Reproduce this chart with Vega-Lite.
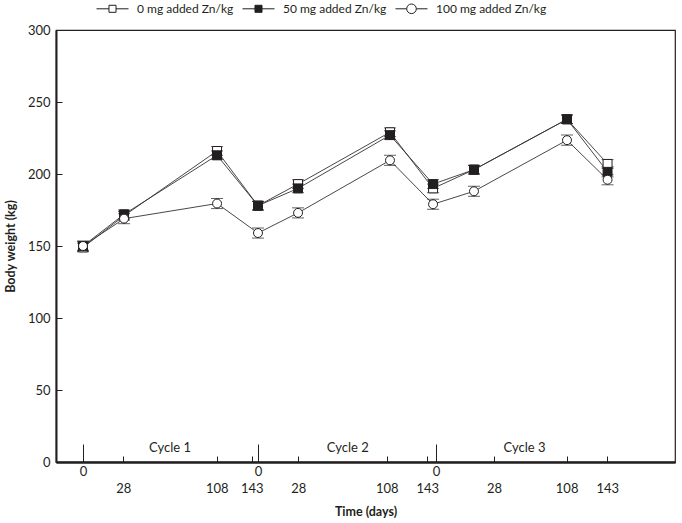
{
  "$schema": "https://vega.github.io/schema/vega-lite/v6.json",
  "width": 619,
  "height": 432,
  "autosize": "none",
  "padding": {"left": 56, "top": 30, "right": 7, "bottom": 61},
  "background": "white",
  "config": {
    "font": "Lato",
    "view": {"stroke": "#231f20", "strokeWidth": 1.2},
    "axis": {
      "domainColor": "#231f20", "domainWidth": 2, "tickColor": "#231f20", "tickWidth": 1,
      "labelColor": "#231f20", "labelFontSize": 13, "labelFont": "Lato",
      "titleFont": "Lato", "titleFontSize": 12.5, "titleFontWeight": "bold", "titleColor": "#231f20",
      "grid": false, "labelOverlap": false, "labelFlush": false
    },
    "legend": {"title": null, "orient": "none", "legendX": 40, "legendY": -37.7, "direction": "horizontal", "gridAlign": "none", "padding": 0, "symbolSize": 1024, "symbolStrokeWidth": 1, "symbolStrokeColor": "#231f20", "labelFontSize": 12, "labelColor": "#231f20", "labelOffset": 8, "columnPadding": 6, "labelFont": "Lato"}
  },
  "datasets": {
    "bw": [
      {"g": "0 mg added Zn/kg", "pos": 0, "w": 149, "lo": 146, "hi": 152},
      {"g": "0 mg added Zn/kg", "pos": 34.2, "w": 171, "lo": 168, "hi": 174},
      {"g": "0 mg added Zn/kg", "pos": 111.7, "w": 216, "lo": 213, "hi": 219},
      {"g": "0 mg added Zn/kg", "pos": 145.8, "w": 178, "lo": 175, "hi": 181},
      {"g": "0 mg added Zn/kg", "pos": 179.2, "w": 193, "lo": 190, "hi": 196},
      {"g": "0 mg added Zn/kg", "pos": 255.8, "w": 229, "lo": 226, "hi": 232},
      {"g": "0 mg added Zn/kg", "pos": 291.7, "w": 190, "lo": 187, "hi": 193},
      {"g": "0 mg added Zn/kg", "pos": 325.8, "w": 203, "lo": 200, "hi": 206},
      {"g": "0 mg added Zn/kg", "pos": 403.3, "w": 238, "lo": 235, "hi": 241},
      {"g": "0 mg added Zn/kg", "pos": 437.1, "w": 207, "lo": 204, "hi": 210},
      {"g": "50 mg added Zn/kg", "pos": 0, "w": 150, "lo": 147, "hi": 153},
      {"g": "50 mg added Zn/kg", "pos": 34.2, "w": 172, "lo": 169, "hi": 175},
      {"g": "50 mg added Zn/kg", "pos": 111.7, "w": 213, "lo": 210, "hi": 216},
      {"g": "50 mg added Zn/kg", "pos": 145.8, "w": 178, "lo": 175, "hi": 181},
      {"g": "50 mg added Zn/kg", "pos": 179.2, "w": 190, "lo": 187, "hi": 193},
      {"g": "50 mg added Zn/kg", "pos": 255.8, "w": 227, "lo": 224, "hi": 230},
      {"g": "50 mg added Zn/kg", "pos": 291.7, "w": 193, "lo": 190, "hi": 196},
      {"g": "50 mg added Zn/kg", "pos": 325.8, "w": 203, "lo": 200, "hi": 206},
      {"g": "50 mg added Zn/kg", "pos": 403.3, "w": 238, "lo": 235, "hi": 241},
      {"g": "50 mg added Zn/kg", "pos": 437.1, "w": 201.5, "lo": 198, "hi": 205},
      {"g": "100 mg added Zn/kg", "pos": 0, "w": 150, "lo": 146.5, "hi": 153.5},
      {"g": "100 mg added Zn/kg", "pos": 34.2, "w": 169, "lo": 165.5, "hi": 172.5},
      {"g": "100 mg added Zn/kg", "pos": 111.7, "w": 179.5, "lo": 176, "hi": 183},
      {"g": "100 mg added Zn/kg", "pos": 145.8, "w": 159, "lo": 155.5, "hi": 162.5},
      {"g": "100 mg added Zn/kg", "pos": 179.2, "w": 173, "lo": 169.5, "hi": 176.5},
      {"g": "100 mg added Zn/kg", "pos": 255.8, "w": 209.5, "lo": 206, "hi": 213},
      {"g": "100 mg added Zn/kg", "pos": 291.7, "w": 179, "lo": 175.5, "hi": 182.5},
      {"g": "100 mg added Zn/kg", "pos": 325.8, "w": 188, "lo": 184.5, "hi": 191.5},
      {"g": "100 mg added Zn/kg", "pos": 403.3, "w": 223.5, "lo": 220, "hi": 227},
      {"g": "100 mg added Zn/kg", "pos": 437.1, "w": 196, "lo": 192.5, "hi": 199.5}
    ],
    "cyc": [
      {"cycle": "Cycle 1", "pos": 72.5, "w": 10},
      {"cycle": "Cycle 2", "pos": 220.7, "w": 10},
      {"cycle": "Cycle 3", "pos": 367.9, "w": 10}
    ]
  },
  "data": {"name": "bw"},
  "layer": [
    {
      "mark": {"type": "line", "color": "#333333", "strokeWidth": 0.9},
      "encoding": {
        "x": {
          "field": "pos", "type": "quantitative",
          "scale": {"domain": [-22.5, 493.3], "nice": false, "zero": false},
          "axis": {"orient": "bottom", "values": [0, 145.8, 294.2], "tickSize": -18, "labelExpr": "'0'", "labelPadding": 21, "title": null}
        },
        "y": {
          "field": "w", "type": "quantitative", "title": "Body weight (kg)",
          "scale": {"domain": [0, 300], "nice": false},
          "axis": {"values": [0, 50, 100, 150, 200, 250, 300], "tickSize": -6, "labelPadding": 12, "titlePadding": 10}
        },
        "detail": {"field": "g"}
      }
    },
    {
      "mark": {"type": "rule", "color": "#231f20", "strokeWidth": 1},
      "encoding": {
        "x": {
          "field": "pos", "type": "quantitative",
          "axis": {
            "orient": "bottom",
            "values": [33.6, 111.4, 140.6, 179.4, 253.1, 286.9, 342.5, 403, 436.9],
            "labelExpr": "['28','108','143','28','108','143','28','108','143'][indexof([33.6,111.4,140.6,179.4,253.1,286.9,342.5,403,436.9], datum.value)]",
            "tickSize": -6, "labelPadding": 26, "title": "Time (days)", "titlePadding": 10
          }
        },
        "y": {"field": "lo", "type": "quantitative", "title": "Body weight (kg)"},
        "y2": {"field": "hi"}
      }
    },
    {
      "mark": {"type": "tick", "orient": "horizontal", "size": 12, "thickness": 1, "color": "#231f20"},
      "encoding": {
        "x": {"field": "pos", "type": "quantitative", "axis": null},
        "y": {"field": "lo", "type": "quantitative", "title": "Body weight (kg)"}
      }
    },
    {
      "mark": {"type": "tick", "orient": "horizontal", "size": 12, "thickness": 1, "color": "#231f20"},
      "encoding": {
        "x": {"field": "pos", "type": "quantitative", "axis": null},
        "y": {"field": "hi", "type": "quantitative", "title": "Body weight (kg)"}
      }
    },
    {
      "mark": {"type": "point", "filled": true, "stroke": "#231f20", "strokeWidth": 1, "size": 80, "opacity": 1},
      "encoding": {
        "x": {"field": "pos", "type": "quantitative", "axis": null},
        "y": {"field": "w", "type": "quantitative", "title": "Body weight (kg)"},
        "shape": {"field": "g", "type": "nominal", "scale": {"domain": ["0 mg added Zn/kg", "50 mg added Zn/kg", "100 mg added Zn/kg"], "range": ["square", "square", "circle"]}, "legend": null},
        "fill": {"field": "g", "type": "nominal", "scale": {"domain": ["0 mg added Zn/kg", "50 mg added Zn/kg", "100 mg added Zn/kg"], "range": ["white", "#231f20", "white"]}, "legend": null}
      }
    },
    {
      "transform": [{"filter": "datum.w < 0"}],
      "mark": {"type": "point", "filled": true, "strokeWidth": 1, "opacity": 1},
      "encoding": {
        "shape": {
          "field": "g", "type": "nominal",
          "scale": {"domain": ["0 mg added Zn/kg", "50 mg added Zn/kg", "100 mg added Zn/kg"],
                    "range": ["M-1,0H-0.22M0.22,0H1M-0.22,-0.22H0.22V0.22H-0.22Z", "M-1,0H-0.22M0.22,0H1M-0.22,-0.22H0.22V0.22H-0.22Z", "M-1,0H-0.3M0.3,0H1M-0.3,0A0.3,0.3,0,1,0,0.3,0A0.3,0.3,0,1,0,-0.3,0Z"]}
        },
        "fill": {
          "field": "g", "type": "nominal",
          "scale": {"domain": ["0 mg added Zn/kg", "50 mg added Zn/kg", "100 mg added Zn/kg"], "range": ["white", "#231f20", "white"]}
        },
        "stroke": {
          "field": "g", "type": "nominal",
          "scale": {"domain": ["0 mg added Zn/kg", "50 mg added Zn/kg", "100 mg added Zn/kg"], "range": ["#231f20", "#231f20", "#231f20"]}
        }
      }
    },
    {
      "data": {"name": "cyc"},
      "mark": {"type": "text", "fontSize": 13, "color": "#231f20", "baseline": "middle", "align": "center"},
      "encoding": {
        "x": {"field": "pos", "type": "quantitative", "axis": null},
        "y": {"field": "w", "type": "quantitative", "title": "Body weight (kg)"},
        "text": {"field": "cycle"}
      }
    }
  ],
  "resolve": {"axis": {"x": "independent"}, "scale": {"shape": "independent", "fill": "independent", "stroke": "independent"}}
}
